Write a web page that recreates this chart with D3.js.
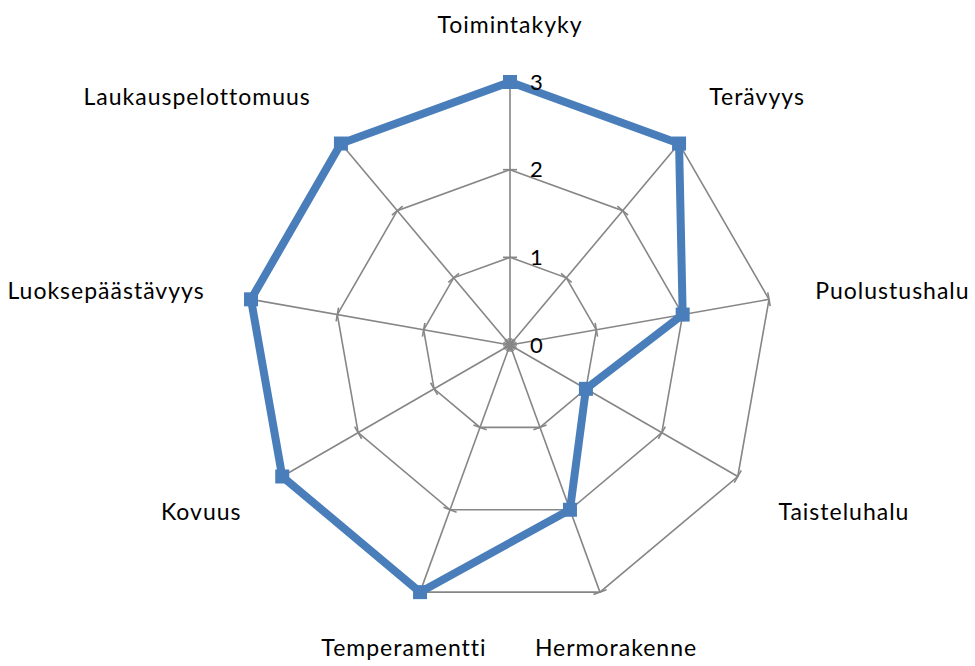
<!DOCTYPE html>
<html>
<head>
<meta charset="utf-8">
<script src="https://cdn.jsdelivr.net/npm/d3@7"></script>
<style>
body { margin: 0; background: #fff; }
text { font-family: Lato, "Open Sans", sans-serif; fill: #000; }
</style>
</head>
<body>
<script>
var w = 975;
var h = 666;
var cx = 510;
var cy = 345;
var radius = 263;

// data
var categories = ["Toimintakyky", "Terävyys", "Puolustushalu", "Taisteluhalu", "Hermorakenne",
                  "Temperamentti", "Kovuus", "Luoksepäästävyys", "Laukauspelottomuus"];
var values = [3, 3, 2, 1, 2, 3, 3, 3, 3];
var tickValues = [0, 1, 2, 3];

var rScale = d3.scaleLinear().domain([0, 3]).range([0, radius]);
var aScale = d3.scaleLinear().domain([0, categories.length]).range([0, 2 * Math.PI]);

function pt(i, r) {
  var a = aScale(i);
  return [r * Math.sin(a), -r * Math.cos(a)];
}

var svg = d3.select("body").append("svg")
    .attr("width", w)
    .attr("height", h);

var g = svg.append("g").attr("transform", "translate(" + cx + "," + cy + ")");

var grey = "#868686";

// rings
var ring = d3.lineRadial()
    .angle(function(d, i) { return aScale(i); })
    .radius(function(d) { return rScale(d); })
    .curve(d3.curveLinearClosed);

tickValues.slice(1).forEach(function(t) {
  g.append("path")
    .attr("d", ring(categories.map(function() { return t; })))
    .attr("fill", "none")
    .attr("stroke", grey)
    .attr("stroke-width", 1.6);
});

// spokes
g.selectAll("line.spoke")
  .data(categories)
  .enter().append("line")
  .attr("class", "spoke")
  .attr("x1", 0).attr("y1", 0)
  .attr("x2", function(d, i) { return pt(i, rScale(3))[0]; })
  .attr("y2", function(d, i) { return pt(i, rScale(3))[1]; })
  .attr("stroke", grey)
  .attr("stroke-width", 1.6);

// tick marks on every spoke
var tickLen = 7;
categories.forEach(function(c, i) {
  var a = aScale(i);
  var px = Math.cos(a), py = Math.sin(a);
  tickValues.forEach(function(t) {
    var p = pt(i, rScale(t));
    g.append("line")
      .attr("x1", p[0] - px * tickLen).attr("y1", p[1] - py * tickLen)
      .attr("x2", p[0] + px * tickLen).attr("y2", p[1] + py * tickLen)
      .attr("stroke", grey)
      .attr("stroke-width", 1.6);
  });
});

// data polygon
g.append("path")
  .attr("d", ring(values))
  .attr("fill", "none")
  .attr("stroke", "#4a7ebb")
  .attr("stroke-width", 8)
  .attr("stroke-linejoin", "miter");

g.selectAll("rect.marker")
  .data(values)
  .enter().append("rect")
  .attr("class", "marker")
  .attr("x", function(d, i) { return pt(i, rScale(d))[0] - 7; })
  .attr("y", function(d, i) { return pt(i, rScale(d))[1] - 7; })
  .attr("width", 14)
  .attr("height", 14)
  .attr("fill", "#4a7ebb");

// axis value labels
g.selectAll("text.tick")
  .data(tickValues)
  .enter().append("text")
  .attr("class", "tick")
  .attr("x", 20)
  .attr("y", function(d) { return -rScale(d); })
  .attr("dy", "0.35em")
  .attr("font-size", 22)
  .text(function(d) { return d; });

// category labels
var labelR = rScale(3) + 47;
g.selectAll("text.cat")
  .data(categories)
  .enter().append("text")
  .attr("class", "cat")
  .attr("x", function(d, i) { return pt(i, labelR)[0]; })
  .attr("y", function(d, i) { return pt(i, labelR)[1]; })
  .attr("font-size", 23)
  .attr("letter-spacing", 1)
  .attr("text-anchor", function(d, i) {
    var s = Math.sin(aScale(i));
    return Math.abs(s) < 0.4 ? "middle" : (s > 0 ? "start" : "end");
  })
  .attr("dy", function(d, i) {
    var c = Math.cos(aScale(i));
    return c > 0.3 ? "-0.1em" : (c < -0.3 ? "0.85em" : "0.35em");
  })
  .text(function(d) { return d; });
</script>
</body>
</html>
